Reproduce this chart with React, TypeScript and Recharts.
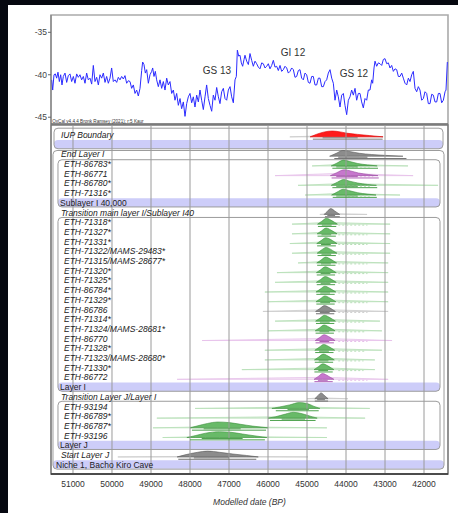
import React from 'react';
import {
  ComposedChart, LineChart, Line, Area, XAxis, YAxis,
  ReferenceArea, ReferenceLine, ReferenceDot,
} from 'recharts';

const FONT = '"Liberation Sans", Arial, sans-serif';

// calendar axis (years BP, drawn right-to-left)
const X_DOMAIN: [number, number] = [41385, 51564];
const yearTicks = [51000, 50000, 49000, 48000, 47000, 46000, 45000, 44000, 43000, 42000];
const minorYearTicks = Array.from({ length: 102 }, (_, i) => 41400 + i * 100);

// NGRIP d18O curve, [year BP, permil]
const climate: [number, number][] = [
  [51547, -40.6], [51521, -41.8], [51487, -40.0], [51453, -39.9], [51419, -40.4], [51385, -39.7], [51350, -40.8], [51316, -40.0],
  [51282, -41.2], [51248, -40.2], [51205, -39.8], [51162, -40.9], [51120, -40.1], [51077, -39.9], [51034, -40.8], [50991, -40.2],
  [50949, -41.0], [50906, -39.9], [50863, -40.3], [50821, -40.0], [50778, -40.6], [50735, -40.2], [50692, -41.0], [50650, -39.8],
  [50607, -40.6], [50564, -40.4], [50521, -41.1], [50479, -38.9], [50436, -40.8], [50393, -40.3], [50350, -41.2], [50308, -40.0],
  [50265, -40.4], [50222, -39.8], [50179, -40.9], [50137, -40.2], [50094, -41.0], [50051, -40.4], [50009, -39.2], [49966, -40.8],
  [49923, -40.6], [49880, -40.9], [49838, -40.3], [49795, -40.6], [49752, -40.2], [49709, -40.5], [49667, -40.1], [49624, -41.0],
  [49581, -40.7], [49538, -40.8], [49496, -41.6], [49453, -41.2], [49410, -42.2], [49368, -41.8], [49325, -42.5], [49282, -41.6],
  [49239, -39.5], [49214, -38.5], [49180, -38.8], [49145, -39.8], [49111, -39.4], [49068, -41.0], [49026, -40.0], [48983, -39.6],
  [48957, -39.2], [48923, -40.2], [48889, -39.6], [48855, -40.6], [48812, -41.4], [48769, -40.6], [48726, -41.6], [48684, -40.8],
  [48641, -41.8], [48598, -40.4], [48556, -41.2], [48513, -40.8], [48470, -42.2], [48427, -41.8], [48385, -43.0], [48342, -42.2],
  [48299, -43.6], [48256, -42.8], [48214, -44.0], [48171, -43.2], [48128, -44.9], [48085, -43.4], [48043, -42.6], [48000, -42.2],
  [47957, -43.3], [47915, -42.6], [47872, -43.8], [47829, -42.4], [47786, -43.2], [47744, -41.8], [47701, -43.0], [47658, -44.1],
  [47615, -42.6], [47573, -41.2], [47530, -42.8], [47487, -43.6], [47444, -44.3], [47402, -42.4], [47359, -43.0], [47316, -41.5],
  [47273, -42.6], [47231, -43.4], [47188, -42.0], [47145, -41.6], [47102, -42.8], [47060, -43.0], [47017, -41.8], [46974, -41.4],
  [46932, -42.6], [46889, -43.3], [46846, -40.6], [46812, -40.2], [46786, -37.1], [46752, -37.8], [46718, -37.7], [46684, -38.6],
  [46650, -39.0], [46615, -38.2], [46590, -37.7], [46547, -38.4], [46504, -38.8], [46462, -37.5], [46419, -38.3], [46376, -39.0],
  [46333, -38.4], [46291, -38.7], [46248, -39.1], [46205, -39.3], [46162, -38.6], [46120, -38.7], [46077, -39.2], [46034, -39.0],
  [45992, -38.7], [45949, -39.3], [45906, -38.9], [45863, -38.3], [45821, -39.1], [45778, -39.0], [45735, -39.5], [45692, -38.9],
  [45650, -39.6], [45607, -39.4], [45564, -39.0], [45521, -39.2], [45479, -39.8], [45436, -39.6], [45393, -39.2], [45350, -39.4],
  [45308, -40.3], [45265, -40.2], [45222, -39.5], [45180, -39.4], [45137, -40.4], [45094, -40.6], [45051, -39.8], [45009, -40.0],
  [44966, -40.9], [44923, -41.0], [44880, -40.2], [44838, -40.2], [44795, -41.2], [44752, -41.2], [44709, -40.4], [44667, -40.4],
  [44624, -41.4], [44581, -41.4], [44538, -40.8], [44496, -40.6], [44453, -39.8], [44410, -39.4], [44367, -40.4], [44325, -41.0],
  [44282, -43.0], [44239, -41.8], [44197, -42.6], [44154, -43.8], [44111, -42.4], [44068, -42.2], [44026, -43.6], [43983, -44.7],
  [43940, -43.0], [43898, -42.6], [43855, -41.8], [43812, -42.4], [43769, -41.6], [43727, -43.0], [43684, -42.2], [43641, -42.2],
  [43599, -43.2], [43556, -43.9], [43513, -42.8], [43470, -43.0], [43428, -41.8], [43385, -41.8], [43342, -40.6], [43316, -41.0],
  [43282, -39.2], [43256, -38.4], [43214, -39.0], [43171, -38.6], [43128, -38.7], [43085, -38.9], [43043, -38.2], [43000, -38.1],
  [42957, -38.7], [42914, -38.6], [42872, -39.2], [42829, -38.9], [42786, -39.6], [42743, -39.3], [42701, -39.4], [42658, -40.2],
  [42615, -40.2], [42572, -39.8], [42530, -40.4], [42487, -41.0], [42444, -41.2], [42401, -40.4], [42359, -40.8], [42316, -40.0],
  [42274, -39.6], [42231, -41.6], [42188, -42.0], [42145, -41.4], [42103, -41.8], [42060, -43.0], [42017, -42.8], [41974, -42.0],
  [41932, -42.2], [41889, -43.4], [41846, -43.4], [41803, -42.3], [41761, -42.4], [41718, -43.2], [41675, -43.2], [41632, -42.2],
  [41590, -42.2], [41547, -43.3], [41504, -43.0], [41461, -42.0], [41436, -41.8], [41402, -38.5],
];
const climateTicks = [-35, -40, -45];
const climateMinorTicks = [-45, -44, -43, -42, -41, -40, -39, -38, -37, -36, -35, -34, -33];
const stadials = [
  { name: 'GS 13', x: 47308, y: -39.55 },
  { name: 'GI 12', x: 45359, y: -37.32 },
  { name: 'GS 12', x: 43795, y: -39.79 },
];

// OxCal model rows, top to bottom
const rowLabels = [
  'IUP Boundary', '', 'End Layer I',
  'ETH-86783*', 'ETH-86771', 'ETH-86780*', 'ETH-71316*', 'Sublayer I 40,000',
  'Transition main layer I/Sublayer I40',
  'ETH-71318*', 'ETH-71327*', 'ETH-71331*', 'ETH-71322/MAMS-29483*', 'ETH-71315/MAMS-28677*',
  'ETH-71320*', 'ETH-71325*', 'ETH-86784*', 'ETH-71329*', 'ETH-86786', 'ETH-71314*',
  'ETH-71324/MAMS-28681*', 'ETH-86770', 'ETH-71328*', 'ETH-71323/MAMS-28680*', 'ETH-71330*', 'ETH-86772',
  'Layer I', 'Transition Layer J/Layer I',
  'ETH-93194', 'ETH-86789*', 'ETH-86787*', 'ETH-93196', 'Layer J',
  'Start Layer J', 'Niche 1, Bacho Kiro Cave',
];
type Kind = 'boundary' | 'date' | 'phase' | 'sequence' | 'blank';
const rowKinds: Kind[] = [
  'boundary', 'blank', 'boundary',
  'date', 'date', 'date', 'date', 'phase',
  'boundary',
  'date', 'date', 'date', 'date', 'date', 'date', 'date', 'date', 'date', 'date', 'date',
  'date', 'date', 'date', 'date', 'date', 'date',
  'phase', 'boundary',
  'date', 'date', 'date', 'date', 'phase',
  'boundary', 'sequence',
];
const rowTicks = rowLabels.map((_, i) => i);

type Tone = 'green' | 'magenta' | 'gray' | 'iup';
const rowTone: Record<number, Tone> = {
  0: 'iup', 2: 'gray', 4: 'magenta', 8: 'gray', 18: 'gray', 21: 'magenta', 25: 'magenta', 27: 'gray', 33: 'gray',
};

// modelled (posterior) densities, [year, relative density]
const posterior: { row: number; pts: [number, number][] }[] = [
  { row: 0, pts: [[44920, 0], [44750, 0.45], [44550, 0.85], [44350, 1], [44150, 0.85], [43950, 0.6], [43700, 0.42], [43400, 0.22], [43050, 0]] },
  { row: 2, pts: [[44420, 0], [44250, 0.5], [44080, 1], [43900, 0.8], [43650, 0.5], [43350, 0.3], [43000, 0.15], [42540, 0]] },
  { row: 3, pts: [[44380, 0], [44230, 0.5], [44060, 1], [43900, 0.75], [43700, 0.42], [43450, 0.18], [43200, 0]] },
  { row: 4, pts: [[44400, 0], [44240, 0.5], [44050, 1], [43880, 0.8], [43680, 0.45], [43430, 0.2], [43180, 0]] },
  { row: 5, pts: [[44380, 0], [44220, 0.55], [44060, 1], [43900, 0.7], [43700, 0.4], [43450, 0.15], [43220, 0]] },
  { row: 6, pts: [[44370, 0], [44230, 0.5], [44070, 1], [43900, 0.72], [43700, 0.4], [43460, 0.16], [43230, 0]] },
  { row: 8, pts: [[44560, 0], [44470, 0.6], [44390, 1], [44290, 0.6], [44160, 0]] },
  { row: 9, pts: [[44730, 0], [44620, 0.5], [44500, 1], [44390, 0.7], [44290, 0.3], [44220, 0]] },
  { row: 10, pts: [[44740, 0], [44630, 0.5], [44510, 1], [44400, 0.7], [44300, 0.3], [44230, 0]] },
  { row: 11, pts: [[44750, 0], [44640, 0.5], [44520, 1], [44400, 0.72], [44300, 0.3], [44230, 0]] },
  { row: 12, pts: [[44740, 0], [44630, 0.55], [44510, 1], [44400, 0.7], [44300, 0.28], [44230, 0]] },
  { row: 13, pts: [[44750, 0], [44640, 0.5], [44520, 1], [44410, 0.7], [44310, 0.3], [44240, 0]] },
  { row: 14, pts: [[44760, 0], [44650, 0.5], [44530, 1], [44420, 0.7], [44320, 0.3], [44250, 0]] },
  { row: 15, pts: [[44760, 0], [44650, 0.5], [44530, 1], [44420, 0.7], [44320, 0.3], [44250, 0]] },
  { row: 16, pts: [[44770, 0], [44660, 0.5], [44540, 1], [44430, 0.7], [44330, 0.3], [44260, 0]] },
  { row: 17, pts: [[44770, 0], [44660, 0.5], [44540, 1], [44430, 0.7], [44330, 0.3], [44260, 0]] },
  { row: 18, pts: [[44780, 0], [44670, 0.5], [44550, 1], [44440, 0.7], [44340, 0.3], [44270, 0]] },
  { row: 19, pts: [[44780, 0], [44670, 0.5], [44550, 1], [44440, 0.7], [44340, 0.3], [44270, 0]] },
  { row: 20, pts: [[44790, 0], [44680, 0.5], [44560, 1], [44450, 0.7], [44350, 0.3], [44280, 0]] },
  { row: 21, pts: [[44790, 0], [44680, 0.5], [44560, 1], [44450, 0.7], [44350, 0.3], [44280, 0]] },
  { row: 22, pts: [[44800, 0], [44690, 0.5], [44570, 1], [44460, 0.7], [44360, 0.3], [44290, 0]] },
  { row: 23, pts: [[44810, 0], [44700, 0.5], [44580, 1], [44470, 0.7], [44370, 0.3], [44300, 0]] },
  { row: 24, pts: [[44820, 0], [44710, 0.5], [44590, 1], [44480, 0.7], [44380, 0.3], [44310, 0]] },
  { row: 25, pts: [[44820, 0], [44710, 0.5], [44600, 1], [44490, 0.7], [44390, 0.3], [44310, 0]] },
  { row: 27, pts: [[44800, 0], [44710, 0.6], [44640, 1], [44560, 0.6], [44460, 0]] },
  { row: 28, pts: [[45900, 0], [45700, 0.25], [45450, 0.6], [45200, 1], [45000, 0.85], [44820, 0.35], [44670, 0]] },
  { row: 29, pts: [[46000, 0], [45800, 0.25], [45550, 0.7], [45350, 1], [45120, 0.75], [44900, 0.3], [44740, 0]] },
  { row: 30, pts: [[48000, 0], [47800, 0.35], [47550, 0.75], [47300, 1], [47000, 0.9], [46700, 0.6], [46400, 0.3], [46000, 0]] },
  { row: 31, pts: [[48080, 0], [47850, 0.35], [47600, 0.75], [47250, 1], [46950, 0.9], [46650, 0.6], [46350, 0.3], [46030, 0]] },
  { row: 33, pts: [[48330, 0], [48100, 0.4], [47800, 0.8], [47550, 1], [47250, 0.8], [46900, 0.5], [46550, 0.25], [46250, 0]] },
];

// unmodelled (prior) likelihoods
const prior: { row: number; pts: [number, number][] }[] = [
  { row: 0, pts: [[45440, 0], [44400, 0.2], [43050, 0]] },
  { row: 3, pts: [[44870, 0], [44100, 0.3], [42410, 0]] },
  { row: 4, pts: [[45820, 0], [44100, 0.4], [42280, 0]] },
  { row: 5, pts: [[45230, 0], [44100, 0.3], [41640, 0]] },
  { row: 6, pts: [[45050, 0], [44100, 0.3], [42615, 0]] },
  { row: 8, pts: [[44670, 0], [44380, 0.15], [43460, 0]] },
  { row: 9, pts: [[45385, 0], [44500, 0.3], [42870, 0]] },
  { row: 10, pts: [[45385, 0], [44500, 0.3], [42870, 0]] },
  { row: 11, pts: [[45440, 0], [44500, 0.3], [42870, 0]] },
  { row: 12, pts: [[45385, 0], [44500, 0.3], [42870, 0]] },
  { row: 13, pts: [[45230, 0], [44500, 0.3], [42920, 0]] },
  { row: 14, pts: [[45770, 0], [44500, 0.3], [42920, 0]] },
  { row: 15, pts: [[45820, 0], [44500, 0.3], [42920, 0]] },
  { row: 16, pts: [[46080, 0], [44500, 0.3], [42920, 0]] },
  { row: 17, pts: [[46000, 0], [44500, 0.3], [42920, 0]] },
  { row: 18, pts: [[46130, 0], [44520, 0.3], [42920, 0]] },
  { row: 19, pts: [[45820, 0], [44520, 0.3], [43130, 0]] },
  { row: 20, pts: [[46000, 0], [44530, 0.3], [43080, 0]] },
  { row: 21, pts: [[47690, 0], [44530, 0.35], [42820, 0]] },
  { row: 22, pts: [[46080, 0], [44540, 0.3], [43080, 0]] },
  { row: 23, pts: [[46080, 0], [44550, 0.3], [43260, 0]] },
  { row: 24, pts: [[46670, 0], [44560, 0.3], [43260, 0]] },
  { row: 25, pts: [[48330, 0], [44570, 0.35], [42920, 0]] },
  { row: 27, pts: [[45000, 0], [44640, 0.15], [43950, 0]] },
  { row: 28, pts: [[47870, 0], [45200, 0.25], [43390, 0]] },
  { row: 29, pts: [[48850, 0], [45400, 0.25], [43510, 0]] },
  { row: 30, pts: [[48950, 0], [47300, 0.2], [44490, 0]] },
  { row: 31, pts: [[48700, 0], [47250, 0.2], [44490, 0]] },
  { row: 33, pts: [[49850, 0], [47550, 0.1], [44975, 0]] },
];

// highest posterior density ranges [from, to]
const range68: Record<number, [number, number]> = {
  0: [44600, 43700], 2: [44200, 43450], 3: [44250, 43700], 4: [44250, 43700], 5: [44250, 43700], 6: [44250, 43700],
  8: [44480, 44280], 9: [44620, 44370], 10: [44630, 44380], 11: [44640, 44390], 12: [44630, 44380], 13: [44640, 44390],
  14: [44650, 44400], 15: [44650, 44400], 16: [44660, 44410], 17: [44660, 44410], 18: [44670, 44420], 19: [44670, 44420],
  20: [44680, 44430], 21: [44680, 44430], 22: [44690, 44440], 23: [44700, 44450], 24: [44710, 44460], 25: [44720, 44470],
  27: [44740, 44540], 28: [45500, 44950], 29: [45650, 45050], 30: [47650, 46700], 31: [47700, 46650], 33: [47900, 47000],
};
const range95: Record<number, [number, number]> = {
  0: [44850, 43060], 2: [44300, 42450], 3: [44350, 43180], 4: [44370, 43160], 5: [44350, 43200], 6: [44340, 43210],
  8: [44540, 44160], 9: [44720, 44250], 10: [44730, 44260], 11: [44740, 44260], 12: [44730, 44260], 13: [44740, 44270],
  14: [44750, 44280], 15: [44750, 44280], 16: [44760, 44290], 17: [44760, 44290], 18: [44770, 44300], 19: [44770, 44300],
  20: [44780, 44310], 21: [44780, 44310], 22: [44790, 44320], 23: [44800, 44330], 24: [44810, 44340], 25: [44810, 44340],
  27: [44800, 44460], 28: [45800, 44700], 29: [45950, 44780], 30: [47950, 46050], 31: [48000, 46080], 33: [48300, 46300],
};
// unmodelled calibrated ranges (split, shown dashed)
const priorRange: Record<number, [number, number]> = {
  3: [43950, 43350], 4: [43950, 43300], 5: [43950, 43350], 6: [43950, 43350],
  9: [44200, 43450], 10: [44200, 43450], 11: [44200, 43450], 12: [44200, 43450], 13: [44200, 43450],
  14: [44200, 43450], 15: [44200, 43450], 16: [44200, 43450], 17: [44200, 43450], 18: [44200, 43450],
  19: [44200, 43500], 20: [44200, 43500], 21: [44200, 43450], 22: [44200, 43500], 23: [44200, 43550],
  24: [44200, 43550], 25: [44200, 43450],
};

// model structure: phases shown as framed groups and shaded rows
const Y_ROWS: [number, number] = [-1.03, 34.95];
const OUTER_X: [number, number] = [51513, 41487];
const IUP_X: [number, number] = [51487, 41513];
const INNER_X: [number, number] = [51385, 41590];
const boxes = [
  { x: IUP_X, y: [-0.7, 1.42] },
  { x: OUTER_X, y: [1.6, 34.45] },
  { x: INNER_X, y: [2.55, 7.42] },
  { x: INNER_X, y: [8.5, 26.42] },
  { x: INNER_X, y: [27.45, 32.42] },
];
const bands = [
  { x: IUP_X, row: 1 },
  { x: INNER_X, row: 7 },
  { x: INNER_X, row: 26 },
  { x: INNER_X, row: 32 },
  { x: OUTER_X, row: 34 },
];

const TONES: Record<Tone, { fill: string; stroke: string; prior: string; bar: string }> = {
  green: { fill: '#68ba68', stroke: '#3d913d', prior: '#b8dfb8', bar: '#4ea24e' },
  magenta: { fill: '#c677cc', stroke: '#9b4ba1', prior: '#e6c0ea', bar: '#b062b6' },
  gray: { fill: '#8c8c8c', stroke: '#5a5a5a', prior: '#cccccc', bar: '#707070' },
  iup: { fill: '#ff1c1c', stroke: '#e00000', prior: '#cccccc', bar: '#7a7a7a' },
};
const LABEL_STYLE: Record<Kind, { indent: number; italic: boolean }> = {
  boundary: { indent: 10, italic: true },
  date: { indent: 13, italic: true },
  phase: { indent: 9, italic: false },
  sequence: { indent: 5, italic: false },
  blank: { indent: 0, italic: false },
};
const BASE = 0.19;
const HUMP = 0.6;
const BAR68 = 0.29;
const BAR95 = 0.43;

const toneOf = (row: number): Tone => rowTone[row] ?? 'green';

const RoundBox = (p: any) => (
  <rect x={p.x} y={p.y} width={p.width} height={p.height} rx={4} ry={4}
    fill={p.fill} fillOpacity={p.fillOpacity} stroke={p.stroke} strokeWidth={p.strokeWidth} />
);

const RowLabel = (props: any) => {
  const { x, y, payload } = props;
  const row = payload.value as number;
  const text = rowLabels[row];
  if (!text) return <g />;
  const st = LABEL_STYLE[rowKinds[row]];
  return (
    <text x={x + st.indent} y={y} dy={3} fontSize={8.5} fontFamily={FONT}
      fontStyle={st.italic ? 'italic' : 'normal'} fill="#222" textAnchor="start">
      {text}
    </text>
  );
};

const climateData = climate.map(([x, v]) => ({ x, v }));

export default function App() {
  return (
    <div style={{ position: 'relative', width: 458, height: 513, background: '#060810', overflow: 'hidden', fontFamily: FONT }}>
      <style>{'body{margin:0}'}</style>
      <div style={{ position: 'absolute', left: 8, top: 5, width: 450, height: 508, background: '#fff' }} />

      <div style={{ position: 'absolute', left: 0, top: 0 }}>
        <LineChart width={458} height={130} data={climateData} margin={{ top: 15, right: 10, bottom: 6, left: 21 }}>
          <ReferenceArea x1={X_DOMAIN[1]} x2={X_DOMAIN[0]} y1={-45.8} y2={-32.96} fill="none" stroke="#aaa" strokeWidth={1.6} />
          <XAxis type="number" dataKey="x" domain={X_DOMAIN} reversed allowDataOverflow mirror
            tick={false} tickLine={false} axisLine={{ stroke: '#555' }} />
          <YAxis type="number" domain={[-45.8, -32.96]} allowDataOverflow ticks={climateTicks} width={30}
            tickSize={3} tickMargin={1} tickLine={{ stroke: '#666' }} axisLine={{ stroke: '#777' }}
            tick={{ fontSize: 8.5, fill: '#444', fontFamily: FONT }} interval={0} />
          <YAxis yAxisId="minor" type="number" domain={[-45.8, -32.96]} allowDataOverflow ticks={climateMinorTicks}
            mirror tick={false} tickSize={2.5} tickLine={{ stroke: '#777' }} axisLine={false} interval={0} />
          <Line dataKey="v" type="linear" stroke="#2b2bff" strokeWidth={1} dot={false} activeDot={false} isAnimationActive={false} />
          {stadials.map(s => (
            <ReferenceDot key={s.name} x={s.x} y={s.y} r={0.1} fill="none" stroke="none"
              label={{ value: s.name, position: 'center', fontSize: 10, fill: '#333', fontFamily: FONT }} />
          ))}
          <ReferenceDot x={51560} y={-45.44} r={0.1} fill="none" stroke="none"
            label={{ value: 'OxCal v4.4.4 Bronk Ramsey (2021); r:5 Kaur', position: 'right', offset: 1, fontSize: 4.6, fill: '#333', fontFamily: FONT }} />
        </LineChart>
      </div>

      <div style={{ position: 'absolute', left: 0, top: 0 }}>
        <ComposedChart width={458} height={513} margin={{ top: 125, right: 10, bottom: 19, left: 51 }}>
          <XAxis type="number" dataKey="x" domain={X_DOMAIN} reversed allowDataOverflow ticks={yearTicks} interval={0}
            height={20} tickLine={false} tickMargin={1} axisLine={{ stroke: '#333', strokeWidth: 1.5 }}
            tick={{ fontSize: 8.5, fill: '#333', fontFamily: FONT }} />
          <XAxis xAxisId="minor" type="number" dataKey="x" domain={X_DOMAIN} reversed allowDataOverflow
            ticks={minorYearTicks} interval={0} mirror tick={false} tickSize={2.5} tickLine={{ stroke: '#555' }} axisLine={false} />

          {bands.map(b => (
            <ReferenceArea key={'band' + b.row} x1={b.x[0]} x2={b.x[1]} y1={b.row - 0.48} y2={b.row + 0.42}
              fill="#9b9bf3" fillOpacity={0.5} stroke="none" shape={RoundBox} />
          ))}
          {yearTicks.map(t => (
            <ReferenceLine key={'g' + t} x={t} stroke="#9a9a9a" strokeWidth={1} />
          ))}
          {boxes.map((b, i) => (
            <ReferenceArea key={'box' + i} x1={b.x[0]} x2={b.x[1]} y1={b.y[0]} y2={b.y[1]}
              fill="none" stroke="#9c9c9c" strokeWidth={1} shape={RoundBox} />
          ))}
          <ReferenceArea x1={X_DOMAIN[1]} x2={X_DOMAIN[0]} y1={Y_ROWS[0]} y2={Y_ROWS[1]} fill="none" stroke="#777" strokeWidth={1.6} />

          {prior.map(d => {
            const t = TONES[toneOf(d.row)];
            return (
              <Area key={'pr' + d.row} data={d.pts.map(([x, h]) => ({ x, v: [d.row + BASE, d.row + BASE - h * HUMP] }))}
                dataKey="v" type="linear" fill={t.prior} fillOpacity={0.4} stroke={t.prior} strokeWidth={0.8}
                dot={false} activeDot={false} isAnimationActive={false} />
            );
          })}
          {posterior.map(d => {
            const t = TONES[toneOf(d.row)];
            return (
              <Area key={'po' + d.row} data={d.pts.map(([x, h]) => ({ x, v: [d.row + BASE, d.row + BASE - h * HUMP] }))}
                dataKey="v" type="monotone" fill={t.fill} fillOpacity={1} stroke={t.stroke} strokeWidth={0.6}
                dot={false} activeDot={false} isAnimationActive={false} />
            );
          })}
          {Object.entries(priorRange).map(([r, [a, b]]) => (
            <ReferenceLine key={'prr' + r} segment={[{ x: a, y: +r + BAR68 }, { x: b, y: +r + BAR68 }]}
              stroke={TONES[toneOf(+r)].prior} strokeWidth={1} strokeDasharray="2 2" />
          ))}
          {Object.entries(range68).map(([r, [a, b]]) => (
            <ReferenceLine key={'r68' + r} segment={[{ x: a, y: +r + BAR68 }, { x: b, y: +r + BAR68 }]}
              stroke={TONES[toneOf(+r)].bar} strokeWidth={1} />
          ))}
          {Object.entries(range95).map(([r, [a, b]]) => (
            <ReferenceLine key={'r95' + r} segment={[{ x: a, y: +r + BAR95 }, { x: b, y: +r + BAR95 }]}
              stroke={TONES[toneOf(+r)].bar} strokeWidth={1} />
          ))}

          <YAxis type="number" domain={Y_ROWS} reversed allowDataOverflow ticks={rowTicks} interval={0}
            mirror width={40} tickSize={0} tickMargin={0} tickLine={false} axisLine={false} tick={RowLabel} />
        </ComposedChart>
      </div>

      <div style={{ position: 'absolute', left: 51, width: 397, top: 497, textAlign: 'center', fontSize: 8.5, fontStyle: 'italic', color: '#333' }}>
        Modelled date (BP)
      </div>
    </div>
  );
}
